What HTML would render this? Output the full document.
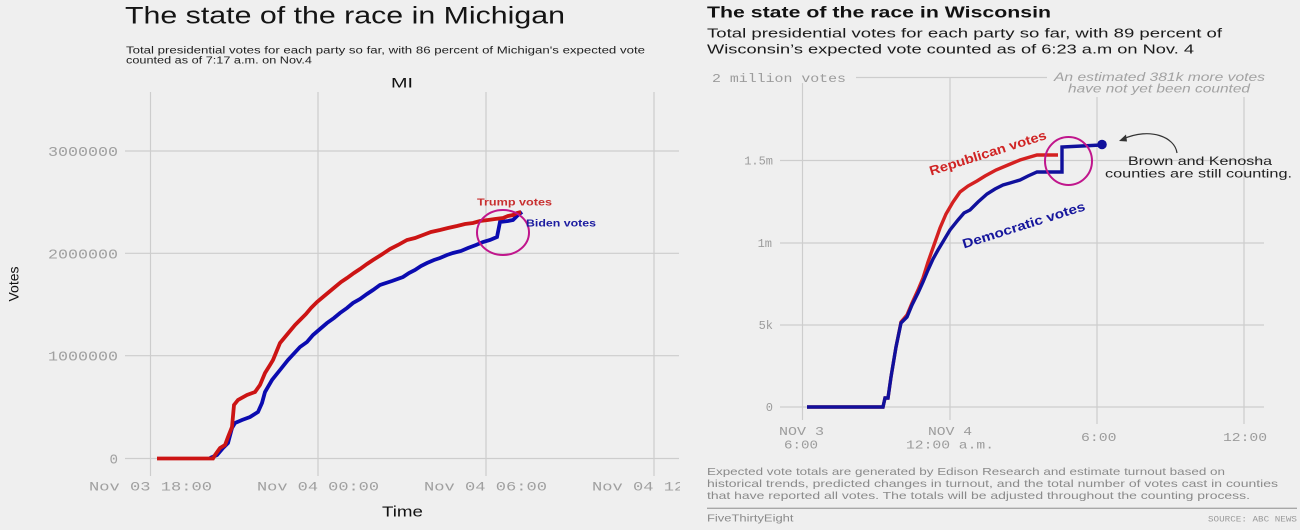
<!DOCTYPE html>
<html><head><meta charset="utf-8"><style>
html,body{margin:0;padding:0;background:#efefef;}
svg{display:block;}
</style></head><body>
<svg width="1300" height="530" viewBox="0 0 1300 530" xmlns="http://www.w3.org/2000/svg">
<rect x="0" y="0" width="1300" height="530" fill="#efefef"/>

<!-- ===== Michigan ===== -->
<g font-family="Liberation Sans, sans-serif">
<text x="125" y="23.5" font-size="24" fill="#141414" textLength="440" lengthAdjust="spacingAndGlyphs">The state of the race in Michigan</text>
<text x="126" y="53.3" font-size="9.8" fill="#222" textLength="519" lengthAdjust="spacingAndGlyphs">Total presidential votes for each party so far, with 86 percent of Michigan's expected vote</text>
<text x="126" y="63.3" font-size="9.8" fill="#222" textLength="186" lengthAdjust="spacingAndGlyphs">counted as of 7:17 a.m. on Nov.4</text>
<text x="391" y="87.3" font-size="14" fill="#111" textLength="22" lengthAdjust="spacingAndGlyphs">MI</text>
</g>
<g stroke="#cdcdcd" stroke-width="1.2">
<line x1="150.5" y1="92" x2="150.5" y2="476"/>
<line x1="318" y1="92" x2="318" y2="476"/>
<line x1="486" y1="92" x2="486" y2="476"/>
<line x1="654" y1="92" x2="654" y2="476"/>
<line x1="125" y1="151" x2="679" y2="151"/>
<line x1="125" y1="253.3" x2="679" y2="253.3"/>
<line x1="125" y1="355.7" x2="679" y2="355.7"/>
<line x1="125" y1="458.5" x2="679" y2="458.5"/>
</g>
<g font-family="Liberation Mono, monospace" font-size="13.5" fill="#a0a0a0">
<text x="48" y="156" textLength="70" lengthAdjust="spacingAndGlyphs">3000000</text>
<text x="48" y="258.3" textLength="70" lengthAdjust="spacingAndGlyphs">2000000</text>
<text x="48" y="360.7" textLength="70" lengthAdjust="spacingAndGlyphs">1000000</text>
<text x="109.5" y="463.5" textLength="8.5" lengthAdjust="spacingAndGlyphs">0</text>
<text x="89" y="490.5" font-size="13" textLength="123" lengthAdjust="spacingAndGlyphs">Nov 03 18:00</text>
<text x="257" y="490.5" font-size="13" textLength="122" lengthAdjust="spacingAndGlyphs">Nov 04 00:00</text>
<text x="424" y="490.5" font-size="13" textLength="123" lengthAdjust="spacingAndGlyphs">Nov 04 06:00</text>
</g>
<clipPath id="mc"><rect x="560" y="470" width="120" height="30"/></clipPath>
<text x="592" y="490.5" font-family="Liberation Mono, monospace" font-size="13" fill="#a0a0a0" textLength="123" lengthAdjust="spacingAndGlyphs" clip-path="url(#mc)">Nov 04 12:00</text>
<text x="382" y="516.5" font-family="Liberation Sans, sans-serif" font-size="15" fill="#111" textLength="41" lengthAdjust="spacingAndGlyphs">Time</text>
<text transform="translate(18.5,284) rotate(-90)" text-anchor="middle" font-family="Liberation Sans, sans-serif" font-size="14" fill="#111" textLength="35" lengthAdjust="spacingAndGlyphs">Votes</text>

<!-- MI Biden -->
<polyline fill="none" stroke="#0b0bb0" stroke-width="3.8" stroke-linejoin="miter" points="210,458 217,455 223,448 228,443 232,428 235,423 242,420 250,417 258,412 262,403 265,392 272,380 280,370 288,360 300,347 307,342 313,335 320,329 327,323 334,318 340,313 347,308 353,303 360,299 367,294 373,290 380,285 392,281 403,277 409,273 415,270 421,266 427,263 434,260 440,258 447,255 453,253 461,251 468,248 476,245 483,242 490,240 497,237 500,222 508,221 513,220 518,215 522,212"/>
<!-- MI Trump -->
<polyline fill="none" stroke="#cc1414" stroke-width="3.8" stroke-linejoin="miter" points="157,458.5 213,458.5 215,455 220,448 225,445 228,437 232,427 234,405 238,400 247,395 255,392 260,385 265,373 270,365 273,360 280,343 285,337 290,331 295,325 300,320 306,314 311,308 317,302 323,297 329,292 335,287 341,282 347,278 354,273 360,269 367,264 373,260 381,255 390,249 398,245 407,240 415,238 423,235 431,232 440,230 448,228 457,226 465,224 473,223 480,221 488,220 495,219 503,218 508,216 513,215 517,213 521,212"/>
<ellipse cx="503" cy="232.5" rx="26" ry="22.5" fill="none" stroke="#c0168c" stroke-width="2"/>
<text x="477" y="205.7" font-family="Liberation Sans, sans-serif" font-weight="bold" font-size="10.5" fill="#c83030" textLength="75" lengthAdjust="spacingAndGlyphs">Trump votes</text>
<text x="526" y="226.7" font-family="Liberation Sans, sans-serif" font-weight="bold" font-size="10.5" fill="#1c1ca0" textLength="70" lengthAdjust="spacingAndGlyphs">Biden votes</text>

<!-- ===== Wisconsin ===== -->
<g font-family="Liberation Sans, sans-serif">
<text x="707" y="17.5" font-size="15.5" font-weight="bold" fill="#111" textLength="344" lengthAdjust="spacingAndGlyphs">The state of the race in Wisconsin</text>
<text x="707" y="37.5" font-size="12.5" fill="#1a1a1a" textLength="515" lengthAdjust="spacingAndGlyphs">Total presidential votes for each party so far, with 89 percent of</text>
<text x="707" y="53.3" font-size="12.5" fill="#1a1a1a" textLength="487" lengthAdjust="spacingAndGlyphs">Wisconsin’s expected vote counted as of 6:23 a.m on Nov. 4</text>
<text x="1054" y="81" font-size="12" font-style="italic" fill="#a2a2a2" textLength="211" lengthAdjust="spacingAndGlyphs">An estimated 381k more votes</text>
<text x="1068" y="92.5" font-size="12" font-style="italic" fill="#a2a2a2" textLength="182" lengthAdjust="spacingAndGlyphs">have not yet been counted</text>
</g>
<g stroke="#cdcdcd" stroke-width="1.2">
<line x1="856" y1="77.5" x2="1047" y2="77.5"/>
<line x1="802.5" y1="83" x2="802.5" y2="420"/>
<line x1="950" y1="78" x2="950" y2="420"/>
<line x1="1097" y1="97" x2="1097" y2="424"/>
<line x1="1244" y1="97" x2="1244" y2="424"/>
<line x1="780" y1="160.5" x2="1264" y2="160.5"/>
<line x1="780" y1="243" x2="1264" y2="243"/>
<line x1="780" y1="325" x2="1264" y2="325"/>
<line x1="780" y1="407" x2="1264" y2="407"/>
</g>
<g font-family="Liberation Mono, monospace" font-size="12" fill="#9c9c9c">
<text x="712" y="82" textLength="134" lengthAdjust="spacingAndGlyphs">2 million votes</text>
<text x="773" y="164.5" text-anchor="end">1.5m</text>
<text x="772" y="247" text-anchor="end">1m</text>
<text x="773" y="329" text-anchor="end">5k</text>
<text x="773" y="411" text-anchor="end">0</text>
<text x="779" y="435" textLength="45" lengthAdjust="spacingAndGlyphs">NOV 3</text>
<text x="784" y="448.3" textLength="34" lengthAdjust="spacingAndGlyphs">6:00</text>
<text x="928" y="435" textLength="44" lengthAdjust="spacingAndGlyphs">NOV 4</text>
<text x="906" y="448.3" textLength="88" lengthAdjust="spacingAndGlyphs">12:00 a.m.</text>
<text x="1081" y="441" textLength="35.5" lengthAdjust="spacingAndGlyphs">6:00</text>
<text x="1223" y="441" textLength="44" lengthAdjust="spacingAndGlyphs">12:00</text>
</g>

<!-- WI Republican -->
<polyline fill="none" stroke="#d42020" stroke-width="3.4" stroke-linejoin="miter" points="807,407 883,407 885,398 888,398 891,377 896,347 901,322 907,315 912,303 918,290 923,278 928,262 934,245 940,228 946,214 953,202 960,192 968,186 977,181 985,176 996,170 1008,165 1020,160 1030,157 1037,155 1058,155"/>
<!-- WI Democratic -->
<polyline fill="none" stroke="#10109c" stroke-width="3.4" stroke-linejoin="miter" points="807,407 883,407 885,398 888,398 891,377 896,347 901,323 907,317 912,305 918,293 923,282 928,270 933,259 938,250 944,240 950,230 958,220 964,213 970,210 978,202 987,194 995,189 1003,185 1010,183 1020,180 1028,176 1037,172 1050,172 1062,172 1062,147 1101,145"/>
<circle cx="1102" cy="144.5" r="4.8" fill="#10109c"/>
<ellipse cx="1068.5" cy="161" rx="23.5" ry="24" fill="none" stroke="#c0168c" stroke-width="2"/>
<text transform="translate(931,175.5) rotate(-17.5)" font-family="Liberation Sans, sans-serif" font-weight="bold" font-size="13" fill="#d02424" textLength="122" lengthAdjust="spacingAndGlyphs">Republican votes</text>
<text transform="translate(964,248.5) rotate(-17.5)" font-family="Liberation Sans, sans-serif" font-weight="bold" font-size="13" fill="#16169c" textLength="128" lengthAdjust="spacingAndGlyphs">Democratic votes</text>
<text x="1128" y="165" font-family="Liberation Sans, sans-serif" font-size="12" fill="#222" textLength="144" lengthAdjust="spacingAndGlyphs">Brown and Kenosha</text>
<text x="1105" y="177.5" font-family="Liberation Sans, sans-serif" font-size="12" fill="#222" textLength="187" lengthAdjust="spacingAndGlyphs">counties are still counting.</text>
<path d="M1177,153 C1175,137 1150,127 1123,139" fill="none" stroke="#333" stroke-width="1.2"/>
<path d="M1119,141 L1126,134.5 L1127,141.5 Z" fill="#333"/>

<g font-family="Liberation Sans, sans-serif" font-size="10.5" fill="#8a8a8a">
<text x="707" y="475" textLength="518" lengthAdjust="spacingAndGlyphs">Expected vote totals are generated by Edison Research and estimate turnout based on</text>
<text x="707" y="487" textLength="571" lengthAdjust="spacingAndGlyphs">historical trends, predicted changes in turnout, and the total number of votes cast in counties</text>
<text x="707" y="499" textLength="543" lengthAdjust="spacingAndGlyphs">that have reported all votes. The totals will be adjusted throughout the counting process.</text>
</g>
<line x1="707" y1="508.3" x2="1297" y2="508.3" stroke="#a8a8a8" stroke-width="1.3"/>
<text x="707" y="521.5" font-family="Liberation Sans, sans-serif" font-size="10" fill="#8a8a8a" textLength="86.5" lengthAdjust="spacingAndGlyphs">FiveThirtyEight</text>
<text x="1208" y="521.5" font-family="Liberation Mono, monospace" font-size="8.5" fill="#9a9a9a" textLength="89" lengthAdjust="spacingAndGlyphs">SOURCE: ABC NEWS</text>
</svg>
</body></html>
